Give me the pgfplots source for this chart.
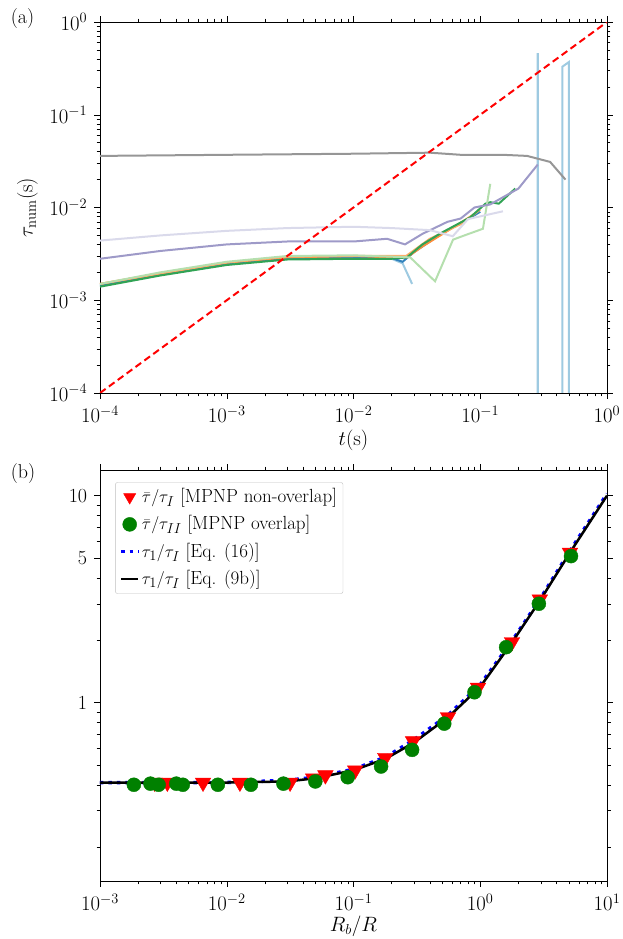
\documentclass[border=0pt]{standalone}
\usepackage{fontspec}
\usepackage{pgfplots}
\pgfplotsset{compat=1.18}
\pgfplotsset{every axis/.append style={scale only axis, width=507pt, tick align=outside,
 major tick length=6pt, minor tick length=3.5pt, tick style={black,thin}, axis line style={thick},
 font=\fontsize{20}{24}\selectfont,
 tick label style={font=\fontsize{20}{24}\selectfont}, label style={font=\fontsize{21}{25}\selectfont}}}
\begin{document}
\fontsize{20}{24}\selectfont
\begin{tikzpicture}[x=1pt,y=1pt]
\definecolor{lblue}{HTML}{9ECAE1}
\definecolor{mblue}{HTML}{3182BD}
\definecolor{orng}{HTML}{FD8D3C}
\definecolor{lorng}{HTML}{FDAE6B}
\definecolor{dgreen}{HTML}{31A354}
\definecolor{lgreen}{HTML}{B5DFAE}
\definecolor{mpurp}{HTML}{9E9AC8}
\definecolor{lpurp}{HTML}{DADAEB}
\definecolor{gry}{HTML}{969696}
\begin{axis}[at={(100pt,546pt)}, anchor=south west, height=371pt,
 xmode=log, ymode=log, xmin=1e-4, xmax=1, ymin=1e-4, ymax=1,
 xlabel={$t(\mathrm{s})$}, ylabel={$\tau_{\mathrm{num}}(\mathrm{s})$},
 xlabel style={yshift=6pt}, ylabel style={yshift=-2pt}, clip=true]
\addplot[lblue, line width=2pt] coordinates {(1e-5,1e-6)(0.283,1e-6)(0.283,0.45)(0.285,0.45)(0.285,1e-6)(0.445,1e-6)(0.445,0.33)(0.5,0.37)(0.5,1e-6)};
\addplot[lblue, line width=2pt] coordinates {(1e-4,1.45e-3)(3e-4,1.9e-3)(1e-3,2.5e-3)(3e-3,2.8e-3)(1e-2,2.85e-3)(0.02,2.8e-3)(0.0244,2.5e-3)(0.029,1.5e-3)};
\addplot[mblue, line width=2pt] coordinates {(1e-4,1.45e-3)(3e-4,1.9e-3)(1e-3,2.5e-3)(3e-3,2.85e-3)(1e-2,2.9e-3)(0.02,2.85e-3)(0.0244,2.6e-3)(0.03,3.3e-3)(0.05,5.3e-3)(0.08,7.5e-3)(0.1,0.009)};
\addplot[orng, line width=2pt] coordinates {(1e-4,1.5e-3)(3e-4,1.95e-3)(1e-3,2.55e-3)(3e-3,2.9e-3)(1e-2,3.0e-3)(0.02,2.9e-3)(0.0264,2.9e-3)(0.035,3.8e-3)(0.06,6e-3)(0.09,8.5e-3)};
\addplot[lorng, line width=2pt] coordinates {(1e-4,1.5e-3)(3e-4,1.95e-3)(1e-3,2.55e-3)(3e-3,2.95e-3)(1e-2,3.0e-3)(0.026,3.0e-3)(0.04,4.6e-3)(0.07,6.6e-3)(0.1,0.0095)};
\addplot[dgreen, line width=2pt] coordinates {(1e-4,1.4e-3)(3e-4,1.85e-3)(1e-3,2.4e-3)(3e-3,2.75e-3)(1e-2,2.8e-3)(0.02,2.8e-3)(0.0264,2.9e-3)(0.035,4.0e-3)(0.049,5.3e-3)(0.083,7.8e-3)(0.11,0.011)(0.12,0.0114)(0.14,0.011)(0.189,0.016)};
\addplot[lgreen, line width=2pt] coordinates {(1e-4,1.5e-3)(3e-4,2e-3)(1e-3,2.6e-3)(3e-3,3e-3)(1e-2,3.05e-3)(0.028,2.9e-3)(0.044,1.6e-3)(0.061,4.5e-3)(0.075,5e-3)(0.105,5.9e-3)(0.12,0.018)};
\addplot[mpurp, line width=2pt] coordinates {(1e-4,2.8e-3)(3e-4,3.4e-3)(1e-3,4.0e-3)(3e-3,4.3e-3)(1e-2,4.3e-3)(0.0184,4.6e-3)(0.0255,4.0e-3)(0.035,5.2e-3)(0.055,7e-3)(0.07,7.6e-3)(0.09,0.0100)(0.12,0.0108)(0.2,0.016)(0.284,0.029)};
\addplot[lpurp, line width=2pt] coordinates {(1e-4,4.4e-3)(3e-4,5.0e-3)(1e-3,5.6e-3)(3e-3,6.0e-3)(1e-2,6.2e-3)(0.02,6.0e-3)(0.04,5.7e-3)(0.0607,4.9e-3)(0.08,7.5e-3)(0.151,9.1e-3)};
\addplot[gry, line width=2pt] coordinates {(1e-4,0.036)(1e-3,0.037)(1e-2,0.038)(0.04,0.039)(0.07,0.037)(0.15,0.037)(0.234,0.036)(0.356,0.031)(0.47,0.020)};
\addplot[red, line width=2pt, dash pattern=on 7pt off 4pt] coordinates {(1e-4,1e-4)(1,1)};
\end{axis}
\begin{axis}[at={(100pt,58pt)}, anchor=south west, height=411pt,
 xmode=log, ymode=log, xmin=1e-3, xmax=10, ymin=0.137, ymax=13.3,
 ytick={1,5,10}, yticklabels={1,5,10},
 minor ytick={0.2,0.3,0.4,0.5,0.6,0.7,0.8,0.9,2,3,4,6,7,8,9},
 xlabel={$R_b/R$}, xlabel style={yshift=8pt},
 legend cell align=left,
 legend image post style={mark size=7pt},
 legend style={at={(0.03,0.97)}, anchor=north west, font=\fontsize{19}{22}\selectfont, draw=gray!50, rounded corners=2pt, row sep=6pt, inner sep=4pt}]
\addplot[red, only marks, mark=triangle*, mark options={rotate=180}, mark size=9pt] coordinates {(2.7e-3,0.41)(3.4e-3,0.41)(6.5e-3,0.41)(0.0127,0.41)(0.0316,0.41)(0.048,0.43)(0.06,0.445)(0.103,0.47)(0.178,0.54)(0.295,0.65)(0.557,0.85)(0.96,1.18)(1.78,1.96)(2.95,3.15)(5.1,5.3)};
\addlegendentry{$\bar\tau/\tau_I$ [MPNP non-overlap]}
\addplot[black!50!green, only marks, mark=*, mark size=7pt] coordinates {(1.85e-3,0.40)(2.5e-3,0.405)(2.9e-3,0.40)(4.0e-3,0.405)(4.5e-3,0.40)(8.5e-3,0.40)(0.0155,0.40)(0.028,0.405)(0.05,0.415)(0.09,0.435)(0.165,0.49)(0.29,0.59)(0.52,0.79)(0.9,1.12)(1.6,1.85)(2.9,3.0)(5.2,5.1)};
\addlegendentry{$\bar\tau/\tau_{II}$ [MPNP overlap]}
\addplot[blue, line width=3.5pt, dash pattern=on 3.5pt off 5pt] coordinates {(1e-3,0.41)(3e-3,0.41)(1e-2,0.41)(0.03,0.42)(0.05,0.435)(0.1,0.475)(0.18,0.545)(0.3,0.66)(0.56,0.87)(1,1.22)(1.78,1.98)(3,3.2)(5.1,5.4)(10,10.2)};
\addlegendentry{$\tau_1/\tau_I$ [Eq. (16)]}
\addplot[black, line width=2.5pt] coordinates {(1e-3,0.41)(3e-3,0.41)(1e-2,0.41)(0.03,0.415)(0.05,0.43)(0.1,0.47)(0.18,0.535)(0.3,0.64)(0.56,0.85)(1,1.19)(1.78,1.95)(3,3.15)(5.1,5.3)(10,10)};
\addlegendentry{$\tau_1/\tau_I$ [Eq. (9b)]}
\end{axis}
\node[anchor=north west] at (4pt,937pt) {(a)};
\node[anchor=north west] at (4pt,482pt) {(b)};
\pgfresetboundingbox
\path (0,0) rectangle (623pt,939pt);
\end{tikzpicture}
\end{document}
